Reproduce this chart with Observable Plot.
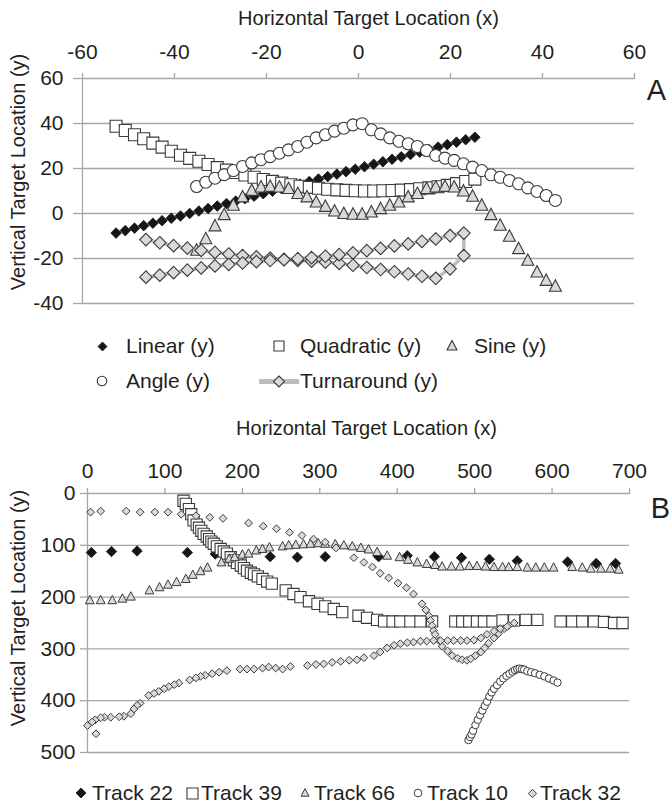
<!DOCTYPE html>
<html><head><meta charset="utf-8">
<script src="https://cdn.jsdelivr.net/npm/d3@7"></script>
<script src="https://cdn.jsdelivr.net/npm/@observablehq/plot@0.6"></script>
<style>
body{margin:0;background:#fff;font-family:"Liberation Sans",Arial,sans-serif;color:#231f20}
#wrap{position:relative;width:672px;height:805px;overflow:hidden;background:#fff}
#wrap svg.chart{position:absolute;left:0}
.lt{position:absolute;font-size:21px;line-height:24px;white-space:nowrap;color:#231f20}
.ls{position:absolute}
</style></head><body><div id="wrap"></div>
<script>
// ---------- Panel A data ----------
const aXTicks = [-60, -40, -20, 0, 20, 40, 60];
const aYTicks = [-40, -20, 0, 20, 40, 60];
const linX = [-52.7,-50.7,-48.7,-46.7,-44.7,-42.7,-40.7,-38.7,-36.7,-34.7,-32.7,-30.7,-28.7,-26.7,-24.7,-22.7,-20.7,-18.7,-16.7,-14.7,-12.7,-10.7,-8.7,-6.7,-4.7,-2.7,-0.7,1.3,3.3,5.3,7.3,9.3,11.3,13.3,15.3,17.3,19.3,21.3,23.3,25.3];
const linY = [-8.7,-7.6,-6.5,-5.4,-4.3,-3.2,-2.1,-1.1,0.0,1.1,2.2,3.3,4.4,5.5,6.6,7.7,8.8,9.9,11.0,12.1,13.1,14.2,15.3,16.4,17.5,18.6,19.7,20.8,21.9,23.0,24.1,25.2,26.2,27.3,28.4,29.5,30.6,31.7,32.8,33.9];
const quadX = [-52.7,-50.7,-48.7,-46.7,-44.7,-42.7,-40.7,-38.7,-36.7,-34.7,-32.7,-30.7,-28.7,-26.7,-24.7,-22.7,-20.7,-18.7,-16.7,-14.7,-12.7,-10.7,-8.7,-6.7,-4.7,-2.7,-0.7,1.3,3.3,5.3,7.3,9.3,11.3,13.3,15.3,17.3,19.3,21.3,23.3,25.3];
const quadY = [38.8,36.9,35.0,33.2,31.3,29.5,27.7,25.9,24.5,23.2,21.8,20.4,19.3,18.2,17.1,16.1,15.1,14.3,13.5,12.8,12.1,11.6,11.2,10.8,10.5,10.3,10.1,10.0,10.0,10.1,10.2,10.4,10.6,11.0,11.4,11.9,12.5,13.3,14.2,15.3];
const sineX = [-35.2,-33.2,-31.2,-29.2,-27.2,-25.2,-23.2,-21.2,-19.2,-17.2,-15.2,-13.2,-11.2,-9.2,-7.2,-5.2,-3.2,-1.2,0.8,2.8,4.8,6.8,8.8,10.8,12.8,14.8,16.8,18.8,20.8,22.8,24.8,26.8,28.8,30.8,32.8,34.8,36.8,38.8,40.8,42.8];
const sineY = [-16.4,-11.3,-5.6,-0.6,3.6,7.3,10.2,11.7,12.0,11.7,11.0,8.8,7.3,5.0,3.1,1.0,-0.1,-0.4,-0.4,0.6,2.1,3.6,5.0,7.3,8.8,11.0,11.7,12.0,11.7,9.9,7.6,3.6,-0.6,-5.3,-10.2,-15.7,-20.9,-26.1,-29.8,-32.4];
const angleX = [-35.2,-33.2,-31.2,-29.2,-27.2,-25.2,-23.2,-21.2,-19.2,-17.2,-15.2,-13.2,-11.2,-9.2,-7.2,-5.2,-3.2,-1.2,0.8,2.8,4.8,6.8,8.8,10.8,12.8,14.8,16.8,18.8,20.8,22.8,24.8,26.8,28.8,30.8,32.8,34.8,36.8,38.8,40.8,42.8];
const angleY = [12.0,13.9,15.7,17.3,19.1,20.9,22.5,23.9,25.3,26.8,28.3,29.8,31.7,33.6,35.0,36.6,37.9,39.4,39.9,37.2,35.4,33.6,32.1,31.0,29.8,28.0,25.8,24.6,23.6,22.1,20.6,19.1,17.2,16.1,14.7,13.2,11.4,9.8,8.0,5.8];
const turnX = [-46.2,-43.2,-40.2,-37.2,-34.2,-31.2,-28.2,-25.2,-22.2,-19.2,-16.2,-13.2,-10.2,-7.2,-4.2,-1.2,1.8,4.8,7.8,10.8,13.8,16.8,19.9,22.9,22.9,19.9,16.8,13.8,10.8,7.8,4.8,1.8,-1.2,-4.2,-7.2,-10.2,-13.2,-16.2,-19.2,-22.2,-25.2,-28.2,-31.2,-34.2,-37.2,-40.2,-43.2,-46.2];
const turnY = [-11.6,-13.0,-14.3,-15.4,-16.4,-17.3,-18.0,-18.7,-19.3,-19.9,-20.4,-20.8,-21.2,-21.6,-22.2,-23.0,-24.0,-24.9,-25.9,-26.9,-27.9,-28.8,-24.6,-18.7,-8.7,-9.8,-11.3,-12.4,-13.5,-14.4,-15.5,-16.5,-17.5,-18.3,-19.0,-19.6,-20.1,-20.5,-20.9,-21.4,-22.0,-22.6,-23.3,-24.2,-25.2,-26.3,-27.4,-28.3];

// ---------- Panel B data ----------
const bXTicks = [0, 100, 200, 300, 400, 500, 600, 700];
const bYTicks = [0, 100, 200, 300, 400, 500];
const t22X = [5,31,64,129,165,236,271,307,376,413,448,483,519,555,620,657,682];
const t22Y = [114,112,111,114,117,122,123,122,122,120,122,124,127,130,132,135,135];
const t39X = [124,127,131,134,137,141,144,147,150,154,157,160,163,167,172,176,180,185,189,193,198,202,206,211,215,220,226,232,238,256,266,275,286,297,307,318,329,350,361,374,383,394,404,417,430,445,475,484,493,503,512,523,536,551,566,581,611,626,639,654,667,680,691];
const t39Y = [14,20,30,40,52,60,66,72,78,83,88,93,97,102,107,112,116,123,129,134,139,144,149,153,156,160,165,170,174,187,194,200,208,213,218,223,229,236,240,244,247,247,247,247,247,247,247,247,247,247,247,247,245,245,244,244,247,247,247,247,248,250,250];
const t66X = [3,17,32,45,56,80,93,104,115,127,136,146,155,173,183,190,200,208,218,226,235,252,260,269,279,288,298,307,320,331,342,353,363,374,387,403,414,426,438,449,458,470,481,493,503,514,525,536,544,555,568,579,590,602,626,639,650,663,675,686];
const t66Y = [206,206,206,203,199,187,181,176,171,165,157,150,143,133,126,123,118,116,110,107,104,102,100,99,98,97,96,97,98,100,102,105,108,113,120,123,128,133,136,138,141,141,141,140,140,141,142,142,142,142,143,143,143,143,142,143,145,145,145,147];
const t10X = [492,494,496,498,501,504,507,510,513,516,519,522,525,529,533,537,541,545,549,552,555,558,561,564,568,573,578,584,590,596,602,607];
const t10Y = [476,470,465,458,447,437,428,419,410,402,392,384,377,370,363,357,352,348,344,341,339,338,339,340,343,345,347,350,353,357,361,365];
const t32X = [4,17,50,68,87,104,121,140,158,175,208,227,244,261,277,292,307,321,344,357,368,378,389,401,412,421,432,437,441,443,445,447,449,454,458,465,471,478,484,490,495,501,508,513,518,525,531,538,544,551,542,533,525,516,508,499,490,482,473,465,456,447,438,430,421,413,404,396,387,378,370,357,348,338,327,316,305,295,284,262,252,243,234,226,215,206,197,180,170,161,152,146,140,132,118,112,105,99,92,86,79,68,64,60,56,47,41,30,22,17,10,6,0,11];
const t32Y = [36,34,34,36,36,36,40,43,46,48,57,63,68,75,81,88,94,105,124,133,142,154,163,173,182,194,213,225,236,245,255,265,272,284,295,304,313,318,321,322,319,313,306,298,289,279,270,261,255,250,257,261,266,272,279,283,284,284,284,284,284,284,285,285,287,288,290,293,298,306,313,317,321,322,324,326,329,330,332,334,339,337,335,337,339,339,339,342,345,348,351,353,356,360,366,369,373,377,382,386,390,405,409,416,425,430,431,432,432,433,437,441,448,464];

// ---------- styling ----------
const ink = "#231f20", grid = "#a6a6a6", light = "#d9d9d9", edge = "#3a3a3a", black = "#161616";
const FONT = "Liberation Sans, Arial, Helvetica, sans-serif";
const shapes = {
  diamond(c, r){ c.moveTo(0,-r); c.lineTo(r,0); c.lineTo(0,r); c.lineTo(-r,0); c.closePath(); },
  square(c, r){ c.moveTo(-r,-r); c.lineTo(r,-r); c.lineTo(r,r); c.lineTo(-r,r); c.closePath(); },
  triangle(c, r){ c.moveTo(0,-r*1.1); c.lineTo(r,r*0.8); c.lineTo(-r,r*0.8); c.closePath(); },
  circle(c, r){ c.moveTo(r,0); c.arc(0,0,r,0,2*Math.PI); c.closePath(); }
};
const sym = name => ({draw(c, size){ shapes[name](c, Math.sqrt(size/Math.PI)); }});
const pts = (xs, ys) => xs.map((x, i) => ({x, y: ys[i]}));
const fmt = d => String(d);

function frameBits(xt, yt, o) {
  return [
    Plot.gridY(yt, {stroke: grid, strokeOpacity: 1, strokeWidth: 1.3}),
    Plot.ruleX([xt[0]], {stroke: grid, strokeOpacity: 1, strokeWidth: 1.3}),
    Plot.axisX(xt, {anchor: "top", tickSize: 6, tickPadding: o.xPad, tickFormat: fmt, stroke: grid, strokeWidth: 1.3, strokeOpacity: 1, fill: ink, fontSize: 21, label: null}),
    Plot.axisY(yt, {anchor: "left", tickSize: o.yTick, tickPadding: o.yPad, tickFormat: fmt, stroke: grid, strokeWidth: 1.3, strokeOpacity: 1, fill: ink, fontSize: 21, label: null}),
    Plot.text(["Horizontal Target Location (x)"], {text: d => d, frameAnchor: "top", lineAnchor: "middle", dx: o.tdx, dy: o.tdy, fontSize: 20, fill: ink}),
    Plot.text(["Vertical Target Location (y)"], {text: d => d, frameAnchor: "left", rotate: -90, lineAnchor: "middle", textAnchor: "middle", dx: o.ydx, dy: o.ydy, fontSize: 20, fill: ink}),
    Plot.text([o.panel], {text: d => d, frameAnchor: "top-right", lineAnchor: "middle", textAnchor: "middle", dx: o.pdx, dy: o.pdy, fontSize: 29, fill: ink})
  ];
}

const chartA = Plot.plot({
  width: 672, height: 320,
  marginTop: 78, marginBottom: 17, marginLeft: 82, marginRight: 38,
  style: {fontFamily: FONT, fontSize: "21px", color: ink, background: "transparent", overflow: "visible"},
  x: {domain: [-60, 60], label: null},
  y: {domain: [-40, 60], label: null},
  marks: [
    ...frameBits(aXTicks, aYTicks, {xPad: 14, yTick: 9, yPad: 10, tdx: 10, tdy: -60, ydx: -64, ydy: -19, panel: "A", pdx: 22, pdy: 12}),
    Plot.dot(pts(linX, linY), {x: "x", y: "y", r: 5.3, symbol: sym("diamond"), fill: black, stroke: black, strokeWidth: 0.8}),
    Plot.dot(pts(quadX, quadY), {x: "x", y: "y", r: 6, symbol: sym("square"), fill: "#fff", stroke: edge, strokeWidth: 1.1}),
    Plot.dot(pts(sineX, sineY), {x: "x", y: "y", r: 6, symbol: sym("triangle"), fill: light, stroke: edge, strokeWidth: 1.1}),
    Plot.dot(pts(angleX, angleY), {x: "x", y: "y", r: 6, symbol: sym("circle"), fill: "#fff", stroke: edge, strokeWidth: 1.1}),
    Plot.line(pts(turnX, turnY), {x: "x", y: "y", stroke: "#bdbdbd", strokeWidth: 3.5}),
    Plot.dot(pts(turnX, turnY), {x: "x", y: "y", r: 6.3, symbol: sym("diamond"), fill: light, stroke: edge, strokeWidth: 1.1})
  ]
});

const chartB = Plot.plot({
  width: 672, height: 370,
  marginTop: 93, marginBottom: 18, marginLeft: 87, marginRight: 43,
  style: {fontFamily: FONT, fontSize: "21px", color: ink, background: "transparent", overflow: "visible"},
  x: {domain: [0, 700], label: null},
  y: {domain: [0, 500], reverse: true, label: null},
  marks: [
    ...frameBits(bXTicks, bYTicks, {xPad: 10, yTick: 7, yPad: 5, tdx: 8, tdy: -65, ydx: -69, ydy: -15, panel: "B", pdx: 31, pdy: 15}),
    Plot.dot(pts(t22X, t22Y), {x: "x", y: "y", r: 5.2, symbol: sym("diamond"), fill: black, stroke: black, strokeWidth: 0.8}),
    Plot.dot(pts(t39X, t39Y), {x: "x", y: "y", r: 5.6, symbol: sym("square"), fill: "#fff", stroke: edge, strokeWidth: 1.1}),
    Plot.dot(pts(t66X, t66Y), {x: "x", y: "y", r: 4.4, symbol: sym("triangle"), fill: light, stroke: edge, strokeWidth: 1}),
    Plot.dot(pts(t10X, t10Y), {x: "x", y: "y", r: 3.7, symbol: sym("circle"), fill: "#fff", stroke: edge, strokeWidth: 1}),
    Plot.dot(pts(t32X, t32Y), {x: "x", y: "y", r: 3.9, symbol: sym("diamond"), fill: light, stroke: edge, strokeWidth: 1})
  ]
});

const wrap = document.getElementById("wrap");
chartA.classList.add("chart"); chartA.style.top = "0px";
chartB.classList.add("chart"); chartB.style.top = "400px";
wrap.appendChild(chartA); wrap.appendChild(chartB);

// ---------- legends ----------
function legSym(cx, cy, name, r, fill, stroke, sw, line) {
  const w = line ? 44 : Math.ceil(2 * r + 6), h = Math.ceil(2 * r + 6);
  const p = d3.path(); shapes[name](p, r);
  const ln = line ? `<line x1="${-w/2+2}" x2="${w/2-2}" y1="0" y2="0" stroke="#bdbdbd" stroke-width="5"/>` : "";
  const s = `<svg class="ls" width="${w}" height="${h}" viewBox="${-w/2} ${-h/2} ${w} ${h}" style="left:${cx - w/2}px;top:${cy - h/2}px">${ln}<path d="${p}" fill="${fill}" stroke="${stroke}" stroke-width="${sw}"/></svg>`;
  wrap.insertAdjacentHTML("beforeend", s);
}
function legText(x, cy, t) {
  wrap.insertAdjacentHTML("beforeend", `<div class="lt" style="left:${x}px;top:${cy - 12}px">${t}</div>`);
}
const legendA = [
  {cx: 102, cy: 346, name: "diamond", r: 4.5, fill: black, stroke: black, sw: 0.8, label: "Linear (y)", tx: 126},
  {cx: 279, cy: 346, name: "square", r: 5, fill: "#fff", stroke: edge, sw: 1.1, label: "Quadratic (y)", tx: 300},
  {cx: 452, cy: 346, name: "triangle", r: 5, fill: light, stroke: edge, sw: 1.1, label: "Sine (y)", tx: 474},
  {cx: 102, cy: 381, name: "circle", r: 4.8, fill: "#fff", stroke: edge, sw: 1.1, label: "Angle (y)", tx: 126},
  {cx: 279, cy: 381, name: "diamond", r: 5.5, fill: light, stroke: edge, sw: 1.1, label: "Turnaround (y)", tx: 300, line: true}
];
const legendB = [
  {cx: 81, cy: 793, name: "diamond", r: 5, fill: black, stroke: black, sw: 0.8, label: "Track 22", tx: 92},
  {cx: 192, cy: 793, name: "square", r: 5.5, fill: "#fff", stroke: edge, sw: 1.1, label: "Track 39", tx: 201},
  {cx: 305, cy: 793, name: "triangle", r: 4, fill: light, stroke: edge, sw: 1, label: "Track 66", tx: 314},
  {cx: 418, cy: 793, name: "circle", r: 3.8, fill: "#fff", stroke: edge, sw: 1, label: "Track 10", tx: 427},
  {cx: 532, cy: 793, name: "diamond", r: 4.2, fill: light, stroke: edge, sw: 1, label: "Track 32", tx: 540}
];
for (const L of [...legendA, ...legendB]) {
  legSym(L.cx, L.cy, L.name, L.r, L.fill, L.stroke, L.sw, L.line);
  legText(L.tx, L.cy, L.label);
}
</script></body></html>
